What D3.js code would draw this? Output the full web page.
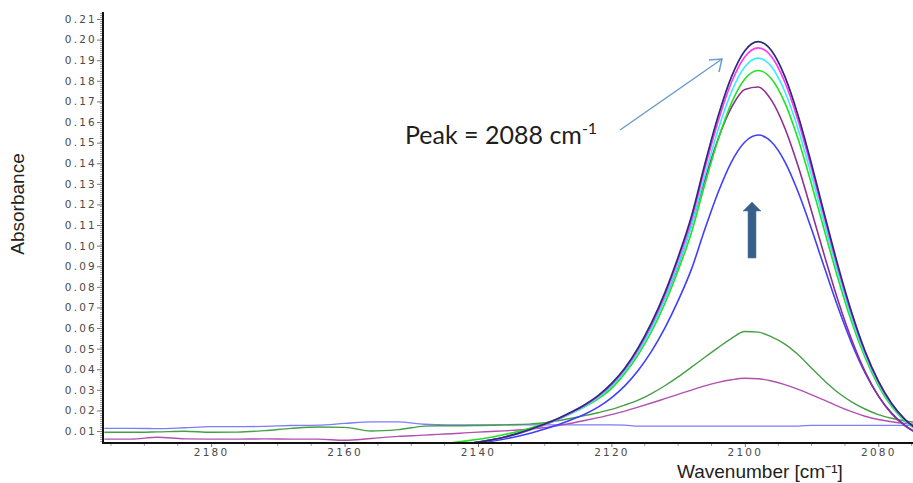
<!DOCTYPE html>
<html>
<head>
<meta charset="utf-8">
<script src="https://cdn.jsdelivr.net/npm/d3@7/dist/d3.min.js"></script>
<style>
  body { margin: 0; background: #fff; }
  svg { display: block; }
</style>
</head>
<body>
<svg id="chart" width="913" height="483"></svg>
<script>
// Wavenumber grids (cm-1): coarse far-baseline region and finer band region
const wnFar  = [2196, 2192, 2188, 2184, 2180, 2176, 2172, 2168, 2164, 2160, 2156, 2152, 2148];
const wnPeak = [2146, 2144, 2142, 2140, 2138, 2136, 2134, 2132, 2130, 2128, 2126, 2124, 2122, 2120,
                2118, 2116, 2114, 2112, 2110, 2108, 2106, 2104, 2102, 2100, 2098, 2096, 2094, 2092,
                2090, 2088, 2086, 2084, 2082, 2080, 2078, 2076, 2074];

// Absorbance of the strong band spectra (on wnPeak)
const specNavy    = [0.0030, 0.0033, 0.0038, 0.0046, 0.0057, 0.0071, 0.0089, 0.0110, 0.0134, 0.0161, 0.0192, 0.0228, 0.0272, 0.0330, 0.0405, 0.0504, 0.0625, 0.0771, 0.0945, 0.1143, 0.1395, 0.1629, 0.1820, 0.1946, 0.1990, 0.1946, 0.1820, 0.1629, 0.1395, 0.1143, 0.0898, 0.0677, 0.0490, 0.0343, 0.0234, 0.0157, 0.0105];
const specMagenta = [0.0030, 0.0033, 0.0038, 0.0046, 0.0057, 0.0070, 0.0088, 0.0109, 0.0132, 0.0159, 0.0190, 0.0225, 0.0268, 0.0325, 0.0400, 0.0496, 0.0616, 0.0760, 0.0931, 0.1126, 0.1374, 0.1604, 0.1793, 0.1917, 0.1960, 0.1917, 0.1793, 0.1604, 0.1374, 0.1126, 0.0884, 0.0667, 0.0483, 0.0339, 0.0231, 0.0155, 0.0104];
const specCyan    = [0.0030, 0.0033, 0.0038, 0.0045, 0.0056, 0.0069, 0.0087, 0.0107, 0.0130, 0.0156, 0.0185, 0.0220, 0.0262, 0.0318, 0.0390, 0.0484, 0.0600, 0.0741, 0.0907, 0.1098, 0.1339, 0.1564, 0.1747, 0.1868, 0.1910, 0.1868, 0.1747, 0.1564, 0.1339, 0.1098, 0.0862, 0.0650, 0.0472, 0.0331, 0.0226, 0.0151, 0.0102];
const specGreen   = [0.0036, 0.0043, 0.0051, 0.0060, 0.0070, 0.0083, 0.0098, 0.0116, 0.0137, 0.0160, 0.0187, 0.0218, 0.0256, 0.0306, 0.0379, 0.0470, 0.0582, 0.0718, 0.0879, 0.1064, 0.1297, 0.1515, 0.1693, 0.1809, 0.1850, 0.1809, 0.1693, 0.1515, 0.1297, 0.1064, 0.0836, 0.0630, 0.0458, 0.0321, 0.0219, 0.0148, 0.0100];
const specPurple  = [0.0030, 0.0033, 0.0038, 0.0046, 0.0056, 0.0070, 0.0088, 0.0109, 0.0131, 0.0157, 0.0187, 0.0222, 0.0264, 0.0318, 0.0393, 0.0487, 0.0603, 0.0742, 0.0904, 0.1100, 0.1321, 0.1519, 0.1671, 0.1758, 0.1770, 0.1705, 0.1570, 0.1384, 0.1167, 0.0943, 0.0730, 0.0544, 0.0390, 0.0271, 0.0184, 0.0125, 0.0085];
const specBlue    = [0.0030, 0.0032, 0.0036, 0.0042, 0.0051, 0.0061, 0.0075, 0.0091, 0.0110, 0.0131, 0.0155, 0.0182, 0.0216, 0.0261, 0.0319, 0.0394, 0.0487, 0.0600, 0.0733, 0.0886, 0.1079, 0.1259, 0.1407, 0.1503, 0.1537, 0.1503, 0.1407, 0.1259, 0.1079, 0.0886, 0.0697, 0.0527, 0.0384, 0.0271, 0.0187, 0.0127, 0.0088];

// Weak spectra spanning the full range (wnFar followed by wnPeak)
const specFlat        = [0.0113, 0.0113, 0.0112, 0.0116, 0.0121, 0.0121, 0.0123, 0.0127, 0.0129, 0.0137, 0.0145, 0.0145, 0.0133,
                         0.0131, 0.0130, 0.0130, 0.0130, 0.0130, 0.0130, 0.0130, 0.0130, 0.0130, 0.0130, 0.0130, 0.0130, 0.0130, 0.0130, 0.0129,
                         0.0124, 0.0124, 0.0124, 0.0124, 0.0124, 0.0124, 0.0124, 0.0124, 0.0124, 0.0124, 0.0124, 0.0124, 0.0124,
                         0.0128, 0.0128, 0.0128, 0.0128, 0.0128, 0.0128, 0.0128, 0.0128, 0.0128];
const specSmallGreen  = [0.0094, 0.0094, 0.0096, 0.0099, 0.0094, 0.0095, 0.0102, 0.0113, 0.0120, 0.0118, 0.0100, 0.0107, 0.0124,
                         0.0126, 0.0126, 0.0126, 0.0127, 0.0128, 0.0130, 0.0132, 0.0135, 0.0140, 0.0150, 0.0162, 0.0175, 0.0189, 0.0205,
                         0.0226, 0.0250, 0.0282, 0.0320, 0.0363, 0.0410, 0.0458, 0.0505, 0.0550, 0.0583, 0.0580, 0.0557, 0.0522, 0.0470,
                         0.0405, 0.0342, 0.0286, 0.0242, 0.0207, 0.0180, 0.0162, 0.0149, 0.0141];
const specSmallPurple = [0.0061, 0.0061, 0.0070, 0.0062, 0.0061, 0.0061, 0.0062, 0.0061, 0.0061, 0.0055, 0.0064, 0.0074, 0.0080,
                         0.0084, 0.0087, 0.0091, 0.0095, 0.0098, 0.0101, 0.0105, 0.0110, 0.0117, 0.0127, 0.0138, 0.0151, 0.0165, 0.0180,
                         0.0197, 0.0216, 0.0236, 0.0257, 0.0278, 0.0299, 0.0319, 0.0336, 0.0349, 0.0356, 0.0354, 0.0343, 0.0325, 0.0302,
                         0.0276, 0.0249, 0.0220, 0.0194, 0.0172, 0.0156, 0.0145, 0.0137, 0.0132];

// Axis ticks and labels
const xTicks = [2180, 2160, 2140, 2120, 2100, 2080];
const yTicks = [0.01, 0.02, 0.03, 0.04, 0.05, 0.06, 0.07, 0.08, 0.09, 0.10, 0.11,
                0.12, 0.13, 0.14, 0.15, 0.16, 0.17, 0.18, 0.19, 0.20, 0.21];
const xTitle = "Wavenumber [cm\u207B\u00B9]";
const yTitle = "Absorbance";
const peakNote = "Peak = 2088 cm";
const peakNoteSup = "-1";

const wnWide = wnFar.concat(wnPeak);

const series = [
  { wn: wnWide, v: specFlat,        color: "#7c7cff", w: 1.3 },
  { wn: wnWide, v: specSmallPurple, color: "#b150b1", w: 1.4 },
  { wn: wnWide, v: specSmallGreen,  color: "#45a045", w: 1.4 },
  { wn: wnPeak, v: specBlue,        color: "#3f3fff", w: 1.6 },
  { wn: wnPeak, v: specPurple,      color: "#8f2f8f", w: 1.6 },
  { wn: wnPeak, v: specGreen,       color: "#22e022", w: 1.6 },
  { wn: wnPeak, v: specCyan,        color: "#33eeff", w: 1.6 },
  { wn: wnPeak, v: specMagenta,     color: "#ff33ff", w: 1.6 },
  { wn: wnPeak, v: specNavy,        color: "#2c2c78", w: 1.7 }
];

const svg = d3.select("#chart");
const plot = { left: 103, right: 913, top: 12, bottom: 443 };

const x = d3.scaleLinear().domain([2196.2, 2074.8]).range([plot.left, plot.right]);
const y = d3.scaleLinear().domain([0.0042, 0.2134]).range([plot.bottom, plot.top]);

svg.append("defs").append("clipPath").attr("id", "plotClip")
  .append("rect")
  .attr("x", plot.left + 1).attr("y", plot.top)
  .attr("width", plot.right - plot.left).attr("height", plot.bottom - plot.top - 1);

// Spectra
const line = d3.line()
  .x(d => x(d[0]))
  .y(d => y(d[1]))
  .curve(d3.curveMonotoneX);

const g = svg.append("g").attr("clip-path", "url(#plotClip)");
series.forEach(s => {
  const pts = s.wn.map((w, i) => [w, s.v[i]]);
  g.append("path")
    .attr("d", line(pts))
    .attr("fill", "none")
    .attr("stroke", s.color)
    .attr("stroke-width", s.w)
    .attr("stroke-linejoin", "round");
});

// Tick label style
const tickFont = "'DejaVu Sans', sans-serif";

// Y axis
const yAxis = d3.axisLeft(y)
  .tickValues(yTicks)
  .tickSize(6)
  .tickPadding(0)
  .tickFormat(d3.format(".2f"));
const yAxisG = svg.append("g").attr("transform", `translate(${plot.left},0)`).call(yAxis);
yAxisG.select(".domain").remove();
yAxisG.selectAll(".tick line").attr("stroke", "#777").attr("stroke-width", 1);
yAxisG.selectAll(".tick text")
  .attr("font-family", tickFont).attr("font-size", 10.5)
  .attr("letter-spacing", "2.2px").attr("fill", "#4a4a4a");

// Y minor ticks
const yMinor = d3.range(0.005, 0.2135, 0.001);
svg.append("g").selectAll("line").data(yMinor).join("line")
  .attr("x1", plot.left - 3).attr("x2", plot.left)
  .attr("y1", d => Math.round(y(d)) + 0.5).attr("y2", d => Math.round(y(d)) + 0.5)
  .attr("stroke", "#888").attr("stroke-width", 0.8);

// X axis
const xAxis = d3.axisBottom(x)
  .tickValues(xTicks)
  .tickSize(4)
  .tickPadding(2)
  .tickFormat(d3.format("d"));
const xAxisG = svg.append("g").attr("transform", `translate(0,${plot.bottom})`).call(xAxis);
xAxisG.select(".domain").remove();
xAxisG.selectAll(".tick line").attr("stroke", "#777");
xAxisG.selectAll(".tick text")
  .attr("font-family", tickFont).attr("font-size", 10.5)
  .attr("letter-spacing", "2.2px").attr("fill", "#4a4a4a");

// X minor ticks
const xMinor = d3.range(2075, 2196, 5).filter(v => xTicks.indexOf(v) < 0);
svg.append("g").selectAll("line").data(xMinor).join("line")
  .attr("x1", d => x(d)).attr("x2", d => x(d))
  .attr("y1", plot.bottom).attr("y2", plot.bottom + 3)
  .attr("stroke", "#888").attr("stroke-width", 0.8);

// Frame lines
svg.append("line")
  .attr("x1", plot.left).attr("x2", plot.left)
  .attr("y1", plot.top).attr("y2", plot.bottom + 1)
  .attr("stroke", "#111").attr("stroke-width", 2);
svg.append("line")
  .attr("x1", plot.left - 1).attr("x2", plot.right)
  .attr("y1", plot.bottom).attr("y2", plot.bottom)
  .attr("stroke", "#111").attr("stroke-width", 2);

// Axis titles
svg.append("text")
  .attr("transform", `translate(24,${(150 + 258) / 2}) rotate(-90)`)
  .attr("text-anchor", "middle")
  .attr("font-family", "'Liberation Sans', Arial, sans-serif")
  .attr("font-size", 19)
  .attr("fill", "#222")
  .text(yTitle);

svg.append("text")
  .attr("x", 677).attr("y", 478)
  .attr("font-family", "'Liberation Sans', Arial, sans-serif")
  .attr("font-size", 19)
  .attr("fill", "#222")
  .text(xTitle);

// Annotation
const note = svg.append("text")
  .attr("x", 405).attr("y", 144)
  .attr("font-family", "Lato, 'Open Sans', sans-serif")
  .attr("font-size", 25)
  .attr("fill", "#1e1e1e");
note.append("tspan").text(peakNote);
note.append("tspan").attr("dy", -10).attr("font-size", 16).text(peakNoteSup);

// Thin pointer arrow toward the band maximum
const arrowColor = "#6d9ccc";
svg.append("line")
  .attr("x1", 620).attr("y1", 130).attr("x2", 722).attr("y2", 59)
  .attr("stroke", arrowColor).attr("stroke-width", 1.5);
svg.append("path")
  .attr("d", "M709,60 L722,59 L719,72")
  .attr("fill", "none").attr("stroke", arrowColor)
  .attr("stroke-width", 1.5).attr("stroke-linejoin", "miter");

// Block arrow indicating increasing absorbance
svg.append("path")
  .attr("d", "M748,258 L748,211 L743,211 L752,202 L761,211 L756,211 L756,258 Z")
  .attr("fill", "#365f8c").attr("stroke", "#5a80aa").attr("stroke-width", 0.6);
</script>
</body>
</html>
